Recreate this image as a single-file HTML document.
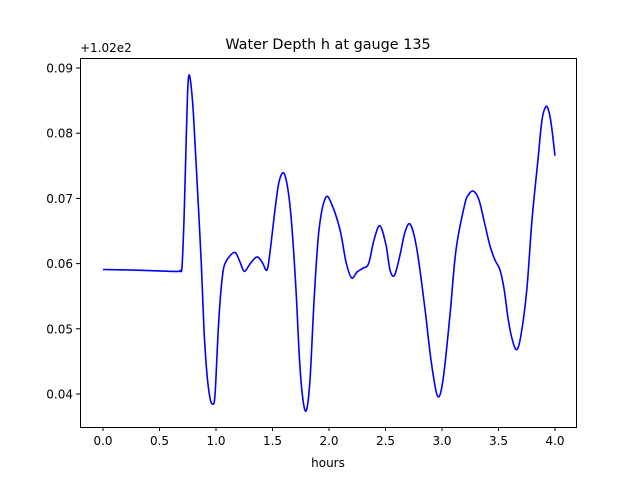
<!DOCTYPE html>
<html><head><meta charset="utf-8"><style>
body{margin:0;background:#fff}
text{font-family:"DejaVu Sans","Liberation Sans",sans-serif;font-size:12px;fill:#000}
</style></head><body>
<svg width="640" height="480" xmlns="http://www.w3.org/2000/svg">
<rect width="640" height="480" fill="#fff"/>
<text x="328" y="49" text-anchor="middle" style="font-size:14.4px">Water Depth h at gauge 135</text>
<text x="80" y="52" style="font-size:12px">+1.02e2</text>
<polyline id="ln" fill="none" stroke="#0000ff" stroke-width="1.6" stroke-linejoin="round" points="103,269.5 137,270.2 176.5,271.4 180,270.5 182,266.9 184,220 185.5,165.8 187.5,95 188.9,75.2 191,85 193.4,113.7 197,180 201.3,263.6 204,330 207,374.4 210,398 212.6,403.8 215,395 218.3,328.8 221,290 223.9,266.9 229,257 235.2,252.5 240,262 244.3,271.4 250,264 256.7,257 262,262 266.9,270.1 270,252 274.8,211.4 279,182 283.8,173 288,190 291.7,224.5 296,290 299.6,361.4 303,400 306.4,410.3 310,380 314.3,296.2 319,230 325.6,197.7 332,205 340.3,231 346,262 351.6,277.9 357,272 362.9,268.2 368.6,263.6 374,240 379.9,225.8 386,245 390,270 394.5,275.3 400,255 405,232 410.4,224.5 417,250 425,309.2 431,360 437.5,396 443,380 449.9,315.8 456,250 464.6,204.9 469,194 473.6,191.2 479,200 484.9,224.5 490,246 495.1,260.3 500,270 504.2,289.7 508,318 512,338.6 516.6,349.7 521,335 526.8,289.7 532,220 538,159.3 542,120 546,106.5 549,112 551.6,126.7 555,155.8"/>
<rect x="80.5" y="58.5" width="496" height="369" fill="none" stroke="#000" stroke-width="1"/>
<g stroke="#000" stroke-width="1">
<line x1="103" y1="427" x2="103" y2="431"/><line x1="159.5" y1="427" x2="159.5" y2="431"/><line x1="216" y1="427" x2="216" y2="431"/><line x1="272.5" y1="427" x2="272.5" y2="431"/><line x1="329" y1="427" x2="329" y2="431"/><line x1="385.5" y1="427" x2="385.5" y2="431"/><line x1="442" y1="427" x2="442" y2="431"/><line x1="498.5" y1="427" x2="498.5" y2="431"/><line x1="555" y1="427" x2="555" y2="431"/>
<line x1="76" y1="394" x2="80" y2="394"/><line x1="76" y1="328.8" x2="80" y2="328.8"/><line x1="76" y1="263.6" x2="80" y2="263.6"/><line x1="76" y1="198.4" x2="80" y2="198.4"/><line x1="76" y1="133.2" x2="80" y2="133.2"/><line x1="76" y1="68" x2="80" y2="68"/>
</g>
<g text-anchor="middle">
<text x="103" y="445">0.0</text><text x="159.5" y="445">0.5</text><text x="216" y="445">1.0</text><text x="272.5" y="445">1.5</text><text x="329" y="445">2.0</text><text x="385.5" y="445">2.5</text><text x="442" y="445">3.0</text><text x="498.5" y="445">3.5</text><text x="555" y="445">4.0</text>
<text x="328" y="467">hours</text>
</g>
<g text-anchor="end">
<text x="73" y="398.5">0.04</text><text x="73" y="333.3">0.05</text><text x="73" y="268.1">0.06</text><text x="73" y="202.9">0.07</text><text x="73" y="137.7">0.08</text><text x="73" y="72.5">0.09</text>
</g>
</svg>
<script>
(function(){
var pl=document.getElementById('ln');
var p=pl.getAttribute('points').trim().split(/\s+/).map(function(s){return s.split(',').map(Number);});
var d='M'+p[0][0]+','+p[0][1];
for(var i=0;i<p.length-1;i++){
var p0=p[i-1]||p[i],p1=p[i],p2=p[i+1],p3=p[i+2]||p2;
var c1x=p1[0]+(p2[0]-p0[0])/6,c1y=p1[1]+(p2[1]-p0[1])/6;
var c2x=p2[0]-(p3[0]-p1[0])/6,c2y=p2[1]-(p3[1]-p1[1])/6;
d+=' C'+c1x.toFixed(2)+','+c1y.toFixed(2)+' '+c2x.toFixed(2)+','+c2y.toFixed(2)+' '+p2[0]+','+p2[1];
}
var path=document.createElementNS('http://www.w3.org/2000/svg','path');
path.setAttribute('d',d);path.setAttribute('fill','none');path.setAttribute('stroke','#0000ff');path.setAttribute('stroke-width','1.6');
pl.parentNode.replaceChild(path,pl);
})();
</script>
</body></html>
